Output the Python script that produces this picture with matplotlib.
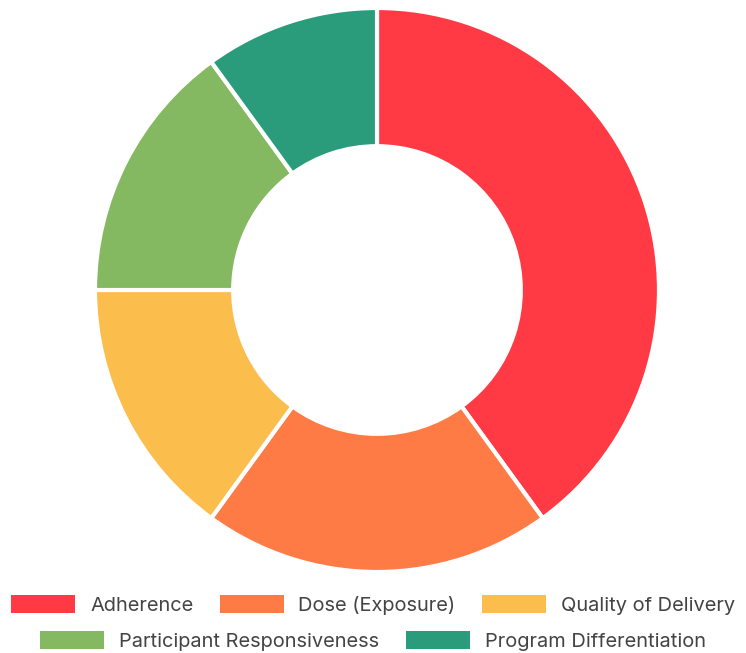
import matplotlib.pyplot as plt
from matplotlib.patches import Patch

plt.rcParams['font.family'] = ['Inter', 'DejaVu Sans']

labels = ['Adherence', 'Dose (Exposure)', 'Quality of Delivery',
          'Participant Responsiveness', 'Program Differentiation']
shares = [40, 20, 15, 15, 10]
colors = ['#FF3A44', '#FF7B45', '#FBBD4C', '#84B861', '#2A9C7C']

W, H = 746, 653
fig = plt.figure(figsize=(W / 100, H / 100), dpi=100)

# donut: centre (377, 290) px, outer radius 282 px
cx, cy, r = 377, 290, 282
ax = fig.add_axes([(cx - r) / W, (H - cy - r) / H, 2 * r / W, 2 * r / H])
ax.pie(shares, colors=colors, startangle=90, counterclock=False, radius=1,
       wedgeprops=dict(width=0.49, edgecolor='white', linewidth=3))
ax.set_xlim(-1, 1)
ax.set_ylim(-1, 1)
ax.set_aspect('equal')
ax.axis('off')

handles = [Patch(facecolor=c, edgecolor='none') for c in colors]
common = dict(frameon=False, fontsize=14.4, handlelength=3.2, handleheight=0.95,
              handletextpad=0.75, columnspacing=1.3, loc='center',
              borderpad=0, borderaxespad=0)
leg1 = fig.legend(handles[:3], labels[:3], ncol=3,
                  bbox_to_anchor=(0.5, 1 - 605 / H), **common)
leg2 = fig.legend(handles[3:], labels[3:], ncol=2,
                  bbox_to_anchor=(0.5, 1 - 641 / H), **common)
for leg in (leg1, leg2):
    for t in leg.get_texts():
        t.set_color('#444444')

fig.savefig('out.png', dpi=100)
